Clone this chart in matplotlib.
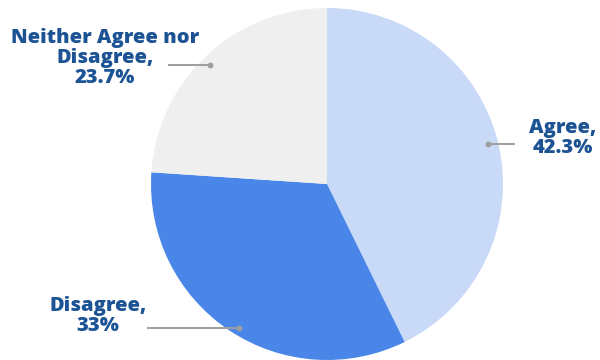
import matplotlib.pyplot as plt

labels = ["Agree", "Disagree", "Neither Agree nor\nDisagree"]
values = [42.3, 33, 23.7]
value_text = ["42.3%", "33%", "23.7%"]
colors = ["#c9daf8", "#4a86e8", "#efefef"]

W, H = 600, 360
fig = plt.figure(figsize=(6, 3.6), dpi=100)
ax = fig.add_axes([0, 0, 1, 1])

cx, cy, r = 327, H - 184, 176
ax.pie(values, colors=colors, startangle=90, counterclock=False,
       center=(cx, cy), radius=r, frame=True,
       wedgeprops=dict(linewidth=0))
ax.set_xlim(0, W)
ax.set_ylim(0, H)
ax.set_aspect("equal")
ax.axis("off")

text_color = "#1c5395"
font = dict(fontsize=14.5, fontweight="heavy", color=text_color,
            family=["Open Sans", "DejaVu Sans"], ha="center", va="center",
            linespacing=1.02)

# label positions (pixel coords, y from top) and leader lines
label_pos = [(563, 138), (98, 316), (105, 58)]
leaders = [((515, 144), (488, 144)), ((147, 328), (239, 328)), ((168, 65), (210, 65))]

for lab, vt, (lx, ly), ((x0, y0), (x1, y1)) in zip(labels, value_text, label_pos, leaders):
    ax.text(lx, H - ly, f"{lab},\n{vt}", **font)
    ax.plot([x0, x1], [H - y0, H - y1], color="#9e9e9e", lw=1.4, solid_capstyle="butt")
    ax.plot([x1], [H - y1], "o", color="#9e9e9e", ms=3.2)

fig.savefig("out.png", dpi=100)
